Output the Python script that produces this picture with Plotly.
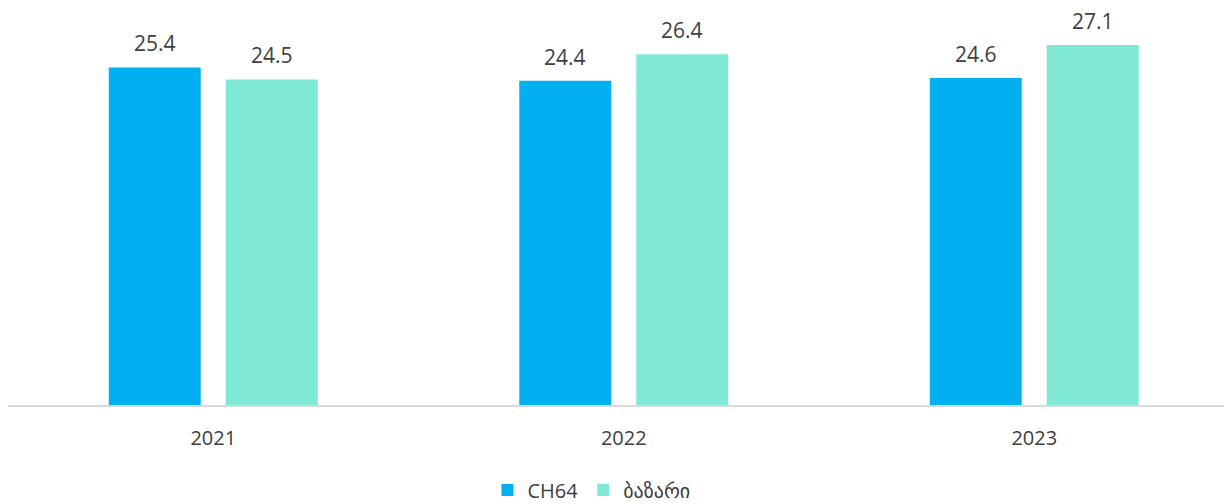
import plotly.graph_objects as go

years = ["2021", "2022", "2023"]
ch64 = [25.4, 24.4, 24.6]
market = [24.5, 26.4, 27.1]
series_names = ["CH64", "ბაზარი"]
colors = ["#00B0F0", "#7FE9D5"]

font_family = "Open Sans, DejaVu Sans, sans-serif"
text_color = "#404040"

fig = go.Figure()
for name, vals, col in zip(series_names, [ch64, market], colors):
    fig.add_trace(go.Bar(
        x=years, y=vals, name=name,
        marker=dict(color=col, line=dict(width=0)),
        hoverinfo="skip",
    ))

# value labels above each bar (x given as category index)
bar_shift = 58.5  # px offset of each bar centre from category centre
for vals, sign in [(ch64, -1), (market, 1)]:
    for idx, v in enumerate(vals):
        fig.add_annotation(
            x=idx, y=v, xref="x", yref="y",
            text=f"{v:.1f}", showarrow=False,
            xshift=sign * bar_shift, yshift=24,
            yanchor="middle", xanchor="center", borderpad=0,
            font=dict(size=21, color=text_color, family=font_family),
        )

fig.update_layout(
    width=1224, height=496,
    margin=dict(l=0, r=0, t=5, b=99, autoexpand=False),
    paper_bgcolor="white", plot_bgcolor="white",
    barmode="group", bargap=0.43, bargroupgap=0.214,
    font=dict(family=font_family, color=text_color, size=20),
    showlegend=True,
    legend=dict(orientation="h", xref="container", yref="container",
                x=0.4767, xanchor="center", y=0.028, yanchor="middle",
                font=dict(size=20, color=text_color), traceorder="normal",
                itemwidth=30),
)
fig.update_xaxes(
    type="category", range=[-0.5, 2.4817],
    showline=True, linecolor="#D9D9D9", linewidth=2,
    ticks="", showgrid=False, ticklabelstandoff=14,
    tickfont=dict(size=20, color=text_color),
)
fig.update_yaxes(range=[0, 29.5], visible=False, showgrid=False, zeroline=False)

fig.write_html("out.html")
